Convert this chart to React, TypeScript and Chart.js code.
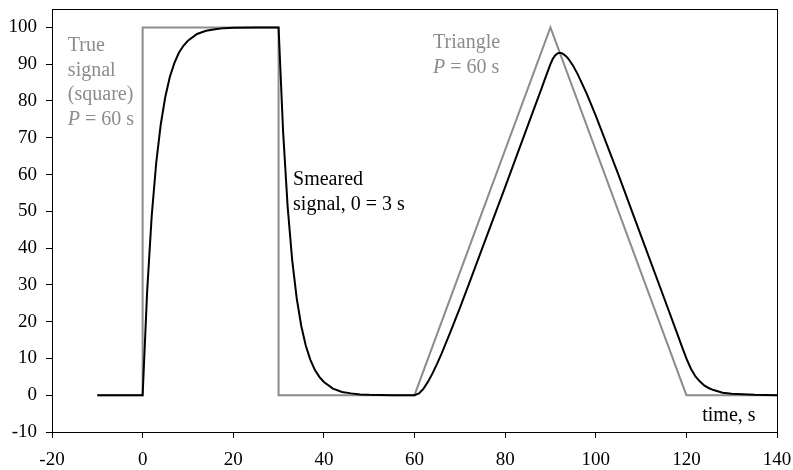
import React, { useEffect, useRef } from "react";
import { Chart, registerables } from "chart.js";

Chart.register(...registerables);

// ---- Data ----
const trueX = [-10, 0, 0, 30, 30, 60, 90, 120, 140];
const trueY = [0, 0, 100, 100, 0, 0, 100, 0, 0];

const smearX = [
  -10, 0, 1, 2, 3, 4, 5, 6, 7, 8, 9, 10, 12, 14, 16, 18, 20, 25, 30,
  31, 32, 33, 34, 35, 36, 37, 38, 39, 40, 42, 44, 46, 48, 50, 55, 60,
  61, 62, 63, 64, 65, 66, 68, 70, 72, 75, 80, 85, 88, 89, 90,
  90.5, 91, 91.5, 92, 92.5, 93, 93.5, 94, 95, 96, 98, 100, 105, 110, 115, 118, 119, 120,
  121, 122, 123, 124, 125, 126, 128, 130, 135, 140,
];
const smearY = [
  0, 0, 28.3, 48.7, 63.2, 73.6, 81.1, 86.5, 90.3, 93.1, 95.0, 96.4, 98.2, 99.1, 99.5, 99.8, 99.9, 100, 100,
  71.7, 51.3, 36.8, 26.4, 18.9, 13.5, 9.7, 6.9, 5.0, 3.6, 1.8, 0.9, 0.5, 0.2, 0.1, 0, 0,
  0.5, 1.8, 3.7, 6.0, 8.6, 11.4, 17.4, 23.7, 30.2, 40.1, 56.6, 73.3, 83.3, 86.7, 90.0,
  91.4, 92.3, 92.9, 93.1, 93.0, 92.6, 92.1, 91.4, 89.6, 87.3, 82.0, 76.0, 60.0, 43.3, 26.7, 16.7, 13.3, 10.0,
  7.2, 5.1, 3.7, 2.6, 1.9, 1.4, 0.7, 0.4, 0.1, 0,
];

const xTicks = [-20, 0, 20, 40, 60, 80, 100, 120, 140];
const yTicks = [-10, 0, 10, 20, 30, 40, 50, 60, 70, 80, 90, 100];

type Seg = { t: string; italic?: boolean };
type Note = { x: number; y: number; color: string; lines: Seg[][] };

const GRAY = "#8c8c8c";
const BLACK = "#000000";

const notes: Note[] = [
  {
    x: -16.5,
    y: 93.5,
    color: GRAY,
    lines: [
      [{ t: "True" }],
      [{ t: "signal" }],
      [{ t: "(square)" }],
      [{ t: "P", italic: true }, { t: " = 60 s" }],
    ],
  },
  {
    x: 64.1,
    y: 94.3,
    color: GRAY,
    lines: [[{ t: "Triangle" }], [{ t: "P", italic: true }, { t: " = 60 s" }]],
  },
  {
    x: 33.2,
    y: 57.1,
    color: BLACK,
    lines: [[{ t: "Smeared" }], [{ t: "signal, 0 = 3 s" }]],
  },
  {
    x: 123.5,
    y: -7.1,
    color: BLACK,
    lines: [[{ t: "time, s" }]],
  },
];

const FONT = "Liberation Serif";
const FONT_SIZE = 20;
const TICK_SIZE = 19;
const LINE_GAP = 24.5;

const framePlugin = {
  id: "frameAndNotes",
  afterDraw(chart: any) {
    const { ctx, chartArea, scales } = chart;
    ctx.save();
    ctx.strokeStyle = "#000";
    ctx.lineWidth = 1;
    ctx.strokeRect(
      Math.round(chartArea.left) + 0.5,
      Math.round(chartArea.top) + 0.5,
      Math.round(chartArea.right - chartArea.left),
      Math.round(chartArea.bottom - chartArea.top)
    );
    ctx.textBaseline = "alphabetic";
    ctx.textAlign = "left";
    for (const n of notes) {
      const px = scales.x.getPixelForValue(n.x);
      const py = scales.y.getPixelForValue(n.y);
      ctx.fillStyle = n.color;
      n.lines.forEach((line, i) => {
        let cx = px;
        const cy = py + i * LINE_GAP;
        for (const s of line) {
          ctx.font = `${s.italic ? "italic " : ""}${FONT_SIZE}px "${FONT}"`;
          ctx.fillText(s.t, cx, cy);
          cx += ctx.measureText(s.t).width;
        }
      });
    }
    ctx.restore();
  },
};

export default function App() {
  const ref = useRef<HTMLCanvasElement | null>(null);

  useEffect(() => {
    if (!ref.current) return;
    const chart = new Chart(ref.current, {
      type: "scatter",
      data: {
        datasets: [
          {
            label: "Smeared signal",
            data: smearX.map((x, i) => ({ x, y: smearY[i] })),
            showLine: true,
            borderColor: BLACK,
            borderWidth: 2,
            pointRadius: 0,
            tension: 0,
            order: 0,
          },
          {
            label: "True signal",
            data: trueX.map((x, i) => ({ x, y: trueY[i] })),
            showLine: true,
            borderColor: GRAY,
            borderWidth: 2,
            pointRadius: 0,
            tension: 0,
            order: 1,
          },
        ],
      },
      options: {
        animation: false,
        responsive: false,
        maintainAspectRatio: false,
        layout: { padding: { top: 9, right: 16, left: 0, bottom: 0 } },
        plugins: {
          legend: { display: false },
          tooltip: { enabled: false },
        },
        scales: {
          x: {
            type: "linear",
            min: -20,
            max: 140,
            afterBuildTicks: (s: any) => {
              s.ticks = xTicks.map((v) => ({ value: v }));
            },
            afterFit: (s: any) => {
              s.height = 38;
              s.paddingLeft = 0;
              s.paddingRight = 0;
            },
            ticks: {
              color: "#000",
              font: { family: FONT, size: TICK_SIZE },
              padding: 11,
              maxRotation: 0,
              autoSkip: false,
            },
            grid: {
              drawOnChartArea: false,
              drawTicks: true,
              tickLength: 6,
              color: "#000",
            },
            border: { color: "#000", width: 1 },
          },
          y: {
            type: "linear",
            min: -10,
            max: 105,
            afterBuildTicks: (s: any) => {
              s.ticks = yTicks.map((v) => ({ value: v }));
            },
            afterFit: (s: any) => {
              s.width = 52;
              s.paddingTop = 0;
              s.paddingBottom = 0;
            },
            ticks: {
              color: "#000",
              font: { family: FONT, size: TICK_SIZE },
              padding: 9,
              autoSkip: false,
            },
            grid: {
              drawOnChartArea: false,
              drawTicks: true,
              tickLength: 6,
              color: "#000",
            },
            border: { color: "#000", width: 1 },
          },
        },
      },
      plugins: [framePlugin],
    });
    return () => chart.destroy();
  }, []);

  return (
    <div style={{ position: "absolute", left: 0, top: 0, width: 793, height: 470, background: "#fff" }}>
      <canvas ref={ref} width={793} height={470} style={{ width: 793, height: 470, display: "block" }} />
    </div>
  );
}
